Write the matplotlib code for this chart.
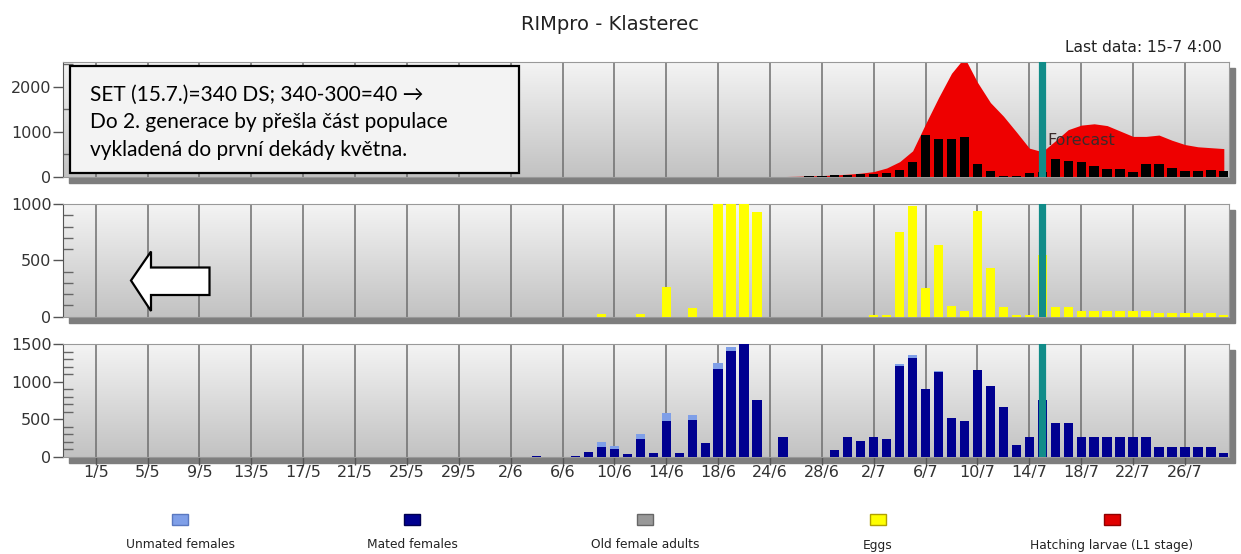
import matplotlib
matplotlib.use('Agg')
import matplotlib.pyplot as plt
import numpy as np
from matplotlib.patches import Rectangle, Polygon
from matplotlib.colors import LinearSegmentedColormap
from matplotlib.ticker import MultipleLocator

# day offsets are counted from 1 May (= 0)
tick_labels = ['1/5', '5/5', '9/5', '13/5', '17/5', '21/5', '25/5', '29/5', '2/6', '6/6',
               '10/6', '14/6', '18/6', '24/6', '28/6', '2/7', '6/7', '10/7', '14/7', '18/7',
               '22/7', '26/7']
forecast_day = 73

# hatching larvae (red area)
larvae_days = list(range(49, 88))
larvae = [0, 3, 5, 8, 10, 15, 22, 32, 45, 62, 85, 120, 200, 340, 580, 1180, 1760, 2300,
          2650, 2100, 1650, 1350, 1000, 640, 560, 800, 1050, 1150, 1180, 1140, 1020, 900,
          900, 930, 815, 720, 670, 650, 630]

# daily black bars in the top panel
daily_days = list(range(50, 88))
daily = [10, 10, 8, 8, 10, 15, 25, 45, 45, 60, 68, 83, 150, 332, 927, 837, 837, 897, 287,
         136, 23, 23, 98, 120, 400, 362, 324, 249, 173, 173, 120, 287, 287, 196, 136, 136,
         158, 136]

# eggs
egg_days = [39, 42, 44, 46, 48, 49, 50, 51, 60, 61, 62, 63, 64, 65, 66, 67, 68, 69, 70, 71,
            72, 73, 74, 75, 76, 77, 78, 79, 80, 81, 82, 83, 84, 85, 86, 87]
eggs = [20, 24, 265, 74, 1050, 1050, 1050, 929, 18, 18, 750, 979, 259, 637, 92, 54, 940,
        434, 83, 18, 18, 548, 83, 83, 54, 54, 54, 54, 54, 54, 30, 30, 30, 30, 30, 12]

# females
fem_days = list(range(34, 88))
mated = [12, 0, 0, 13, 58, 129, 107, 31, 235, 44, 480, 53, 488, 178, 1163, 1403, 1550, 759,
         0, 258, 0, 0, 0, 84, 258, 213, 258, 235, 1212, 1320, 906, 1128, 515, 480, 1154, 937,
         662, 160, 262, 750, 444, 444, 262, 262, 262, 262, 262, 262, 133, 133, 133, 133, 133,
         53]
unmated = [0, 0, 0, 0, 0, 66, 31, 0, 67, 0, 102, 0, 72, 0, 85, 53, 0, 0,
           0, 0, 0, 0, 0, 0, 0, 0, 0, 0, 22, 30, 0, 12, 0, 0, 0, 0,
           0, 0, 0, 0, 0, 0, 0, 0, 0, 0, 0, 0, 0, 0, 0, 0, 0, 0]

legend_labels = ['Unmated females', 'Mated females', 'Old female adults', 'Eggs',
                 'Hatching larvae (L1 stage)']
legend_colors = ['#7f9fe8', '#000090', '#999999', '#ffff00', '#e00000']
legend_edges = ['#5a78c0', '#000050', '#666666', '#b0a000', '#900000']

plt.rcParams['font.family'] = ['DejaVu Sans']

W, H = 1241, 554


def fx(px):
    return px / W


def fy(py):
    return 1 - py / H


fig = plt.figure(figsize=(W / 100, H / 100), dpi=100)
L, R = 62.7, 1229
XMIN, XMAX = -2.55, 87.4
ticks = np.arange(len(tick_labels)) * 4
bg = LinearSegmentedColormap.from_list('bg', ['#f4f4f4', '#c2c2c2'])


def make_ax(top, bot, ymax, major, minor, last=False):
    ax = fig.add_axes([fx(L), fy(bot), fx(R - L), (bot - top) / H])
    fig.patches.append(Rectangle((fx(L + 6), fy(bot + 6)), fx(R - L), (bot - top) / H,
                                 transform=fig.transFigure, color='#7e7e7e', zorder=-1))
    ax.imshow(np.linspace(0, 1, 256).reshape(-1, 1), extent=[0, 1, 0, 1],
              transform=ax.transAxes, aspect='auto', cmap=bg, zorder=0)
    for t in ticks:
        ax.axvline(t, color='#6e6e6e', lw=1.1, zorder=1)
    ax.axvline(forecast_day, color='#118c89', lw=5.2, zorder=4)
    ax.set_xlim(XMIN, XMAX)
    ax.set_ylim(0, ymax)
    ax.yaxis.set_major_locator(MultipleLocator(major))
    ax.yaxis.set_minor_locator(MultipleLocator(minor))
    ax.tick_params(axis='y', which='major', direction='out', length=7, width=1,
                   color='#555555', labelcolor='#333333', labelsize=11.5, pad=1)
    ax.tick_params(axis='y', which='minor', direction='in', length=7, width=1,
                   color='#666666')
    ax.set_xticks(ticks)
    if last:
        ax.set_xticklabels(tick_labels)
        ax.tick_params(axis='x', direction='out', length=6, width=1, color='#555555',
                       labelcolor='#333333', labelsize=11.5, pad=0)
    else:
        ax.tick_params(axis='x', length=0, labelbottom=False)
    for s in ['top', 'right', 'bottom']:
        ax.spines[s].set_color('#999999')
    ax.spines['left'].set_color('#555555')
    return ax


# top panel: hatching larvae
ax1 = make_ax(62, 177, 2550, 1000, 500)
ax1.fill_between(larvae_days, larvae, 0, color='#ee0000', lw=0, zorder=2)
ax1.bar(daily_days, daily, width=0.72, color='#000000', zorder=3)
ax1.text(73.4, 820, 'Forecast', fontsize=11.5, color='#3a2a2a', va='center', zorder=5)

# middle panel: eggs
ax2 = make_ax(204, 316.7, 1000, 500, 100)
ax2.bar(egg_days, eggs, width=0.72, color='#ffff00', zorder=3)

# bottom panel: females
ax3 = make_ax(344, 456.7, 1500, 500, 100, last=True)
ax3.bar(fem_days, mated, width=0.72, color='#000090', lw=0, zorder=3)
ax3.bar(fem_days, unmated, bottom=mated, width=0.72, color='#7f9fe8', lw=0, zorder=3)

fig.text(fx(610), fy(25), 'RIMpro - Klasterec', ha='center', va='center', fontsize=14,
         color='#222222')
fig.text(fx(1222), fy(47), 'Last data: 15-7 4:00', ha='right', va='center', fontsize=11.2,
         color='#222222')

# annotation box
fig.patches.append(Rectangle((fx(70), fy(173)), fx(519 - 70), (173 - 66) / H,
                             transform=fig.transFigure, facecolor='#f3f3f3',
                             edgecolor='black', lw=1.6, zorder=5))
box_lines = ['SET (15.7.)=340 DS; 340-300=40 \u2192',
             'Do 2. generace by p\u0159e\u0161la \u010d\u00e1st populace',
             'vykladen\u00e1 do prvn\u00ed dek\u00e1dy kv\u011btna.']
for i, line in enumerate(box_lines):
    fig.text(fx(90), fy(95 + i * 27.5), line, ha='left', va='center', fontsize=15,
             family=['Lato', 'DejaVu Sans'], color='black', zorder=6)

# block arrow pointing left
arrow_px = [(131, 280.5), (151, 251.5), (151, 267.5), (209.5, 267.5), (209.5, 295),
            (151, 295), (151, 311)]
fig.patches.append(Polygon([(fx(x), fy(y)) for x, y in arrow_px], closed=True,
                           transform=fig.transFigure, facecolor='white',
                           edgecolor='black', lw=1.6, zorder=5))

# legend
leg_x = [180, 412, 645, 878, 1112]
for x, lab, c, e in zip(leg_x, legend_labels, legend_colors, legend_edges):
    fig.patches.append(Rectangle((fx(x - 8), fy(525)), fx(16), 11 / H,
                                 transform=fig.transFigure, facecolor=c, edgecolor=e,
                                 lw=1, zorder=5))
    fig.text(fx(x), fy(545), lab, ha='center', va='center', fontsize=8.8, color='#222222')

fig.savefig('out.png', dpi=100)
